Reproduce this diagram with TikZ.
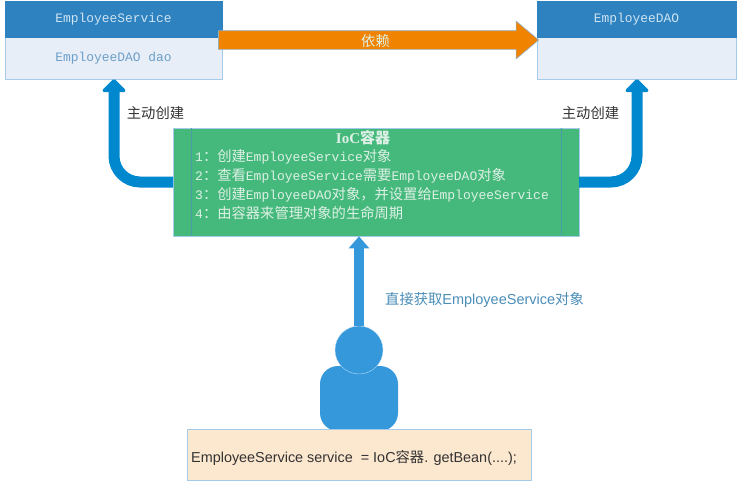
\documentclass[tikz,border=0pt]{standalone}
\usepackage{fontspec}
\setmainfont{Liberation Sans}
\newfontfamily\monof{Liberation Mono}
\newfontfamily\cjkf{Noto Sans CJK SC}
\usetikzlibrary{arrows.meta,shapes.arrows}
\definecolor{headblue}{HTML}{2E82C0}
\definecolor{bodyblue}{HTML}{E7EEF8}
\definecolor{edgeblue}{HTML}{A5CBEB}
\definecolor{greenbox}{HTML}{45B97C}
\definecolor{greenline}{HTML}{4A9FA6}
\definecolor{arrowblue}{HTML}{0088CE}
\definecolor{personblue}{HTML}{3598DB}
\definecolor{beige}{HTML}{FCE7CF}
\definecolor{orangearrow}{HTML}{F08300}
\definecolor{labelblue}{HTML}{4A8DB8}
\definecolor{headtext}{HTML}{CFE4F3}
\definecolor{bodytext}{HTML}{6E9FC9}
\definecolor{greentext}{HTML}{DDF0E5}
\newcommand{\cj}[1]{{\cjkf\fontsize{14.3}{14}\selectfont #1}}
\tikzset{
  x=1pt,y=-1pt,
  headbox/.style={draw=headblue,fill=headblue,text=headtext,inner sep=0pt,minimum height=36pt,font=\monof\fontsize{12.9}{15}\selectfont},
  bodybox/.style={draw=edgeblue,line width=0.8pt,fill=bodyblue,text=bodytext,inner sep=0pt,minimum height=42pt,font=\monof\fontsize{12.9}{15}\selectfont},
  greenbg/.style={draw=edgeblue,line width=0.7pt,fill=greenbox,inner sep=0pt,minimum width=406pt,minimum height=108pt},
  greentxt/.style={text=greentext,inner sep=0pt,font=\monof\fontsize{13}{18.8}\selectfont},
  create/.style={draw=arrowblue,line width=11pt,rounded corners=26pt,-{Triangle[width=27pt,length=14pt,round=false]}},
  fetch/.style={draw=personblue,line width=10pt,-{Triangle[width=20pt,length=12pt]}},
  darklabel/.style={text=black!80,inner sep=0pt},
}
\begin{document}
\begin{tikzpicture}
\useasboundingbox (0,0) rectangle (740,485);
% left class
\node[bodybox,minimum width=217pt] (svcbody) at (113.5,58) {\raisebox{-2.5pt}{EmployeeDAO dao}};
\node[headbox,minimum width=217pt] (svchead) at (113.5,19.5) {\raisebox{-2pt}{EmployeeService}};
% right class
\node[bodybox,minimum width=199pt] (daobody) at (636.5,58) {};
\node[headbox,minimum width=199pt] (daohead) at (636.5,19.5) {\raisebox{-2pt}{EmployeeDAO}};
% orange dependency
\node[single arrow,draw=edgeblue!60!gray,line width=0.7pt,fill=orangearrow,inner sep=0pt,
  minimum width=37pt,minimum height=320pt,single arrow head extend=9.5pt,single arrow head indent=0pt,
  single arrow tip angle=80,
  text height=11pt,text depth=7pt,text=greentext] (dep) at (373,40) {\hspace*{5pt}\raisebox{-4pt}{\cj{依赖}}};
% green container
\node[greenbg] (ioc) at (376,182) {};
\coordinate (iocl) at (191,128);
\coordinate (iocr) at (561,128);
\draw[greenline,line width=0.8pt] (iocl) -- (iocl |- ioc.south);
\draw[greenline,line width=0.8pt] (iocr) -- (iocr |- ioc.south);
\node[greentxt] (ioctitle) at (363,137.5) {\fontspec{Liberation Serif}\bfseries\fontsize{15}{15}\selectfont IoC{\cjkf\bfseries\fontsize{15}{15}\selectfont 容器}};
\node[greentxt,anchor=north west,align=left] (ioclist) at (195,149.5) {%
1\cj{：创建}EmployeeService\cj{对象}\\
2\cj{：查看}EmployeeService\cj{需要}EmployeeDAO\cj{对象}\\
3\cj{：创建}EmployeeDAO\cj{对象，并设置给}EmployeeService\\
4\cj{：由容器来管理对象的生命周期}};
% create arrows
\coordinate (lstart) at (173,182);
\coordinate (ltip) at (114,79);
\coordinate (rstart) at (579,182);
\coordinate (rtip) at (637,79);
\draw[create] (lstart) -| (ltip);
\draw[create] (rstart) -| (rtip);
\node[darklabel] (lcreate) at (155.5,113) {\cj{主动创建}};
\node[darklabel] (rcreate) at (590.5,113) {\cj{主动创建}};
% person
\node[fill=personblue,rounded corners=18pt,minimum width=78pt,minimum height=65pt,inner sep=0pt] (pbody) at (359,398.5) {};
\node[circle,fill=personblue,draw=white!65!personblue,line width=0.4pt,minimum size=48pt,inner sep=0pt] (phead) at (359,350) {};
\draw[fetch] (phead.north) -- (ioc.south -| phead.north);
\node[text=labelblue,inner sep=0pt,anchor=west,font=\fontsize{14.5}{16}\selectfont] (fetchlabel) at (385,299.5) {\cj{直接获取}EmployeeService\cj{对象}};
% code box
\node[draw=edgeblue,line width=0.8pt,fill=beige,minimum width=344pt,minimum height=51pt,inner sep=0pt] (code) at (359,454.5) {};
\node[text=black!80,inner sep=0pt,anchor=west,font=\fontsize{14.4}{16}\selectfont] (codetext) at (191,457.5) {EmployeeService service\ \ = IoC\cj{容器}. getBean(....);};
\end{tikzpicture}
\end{document}
